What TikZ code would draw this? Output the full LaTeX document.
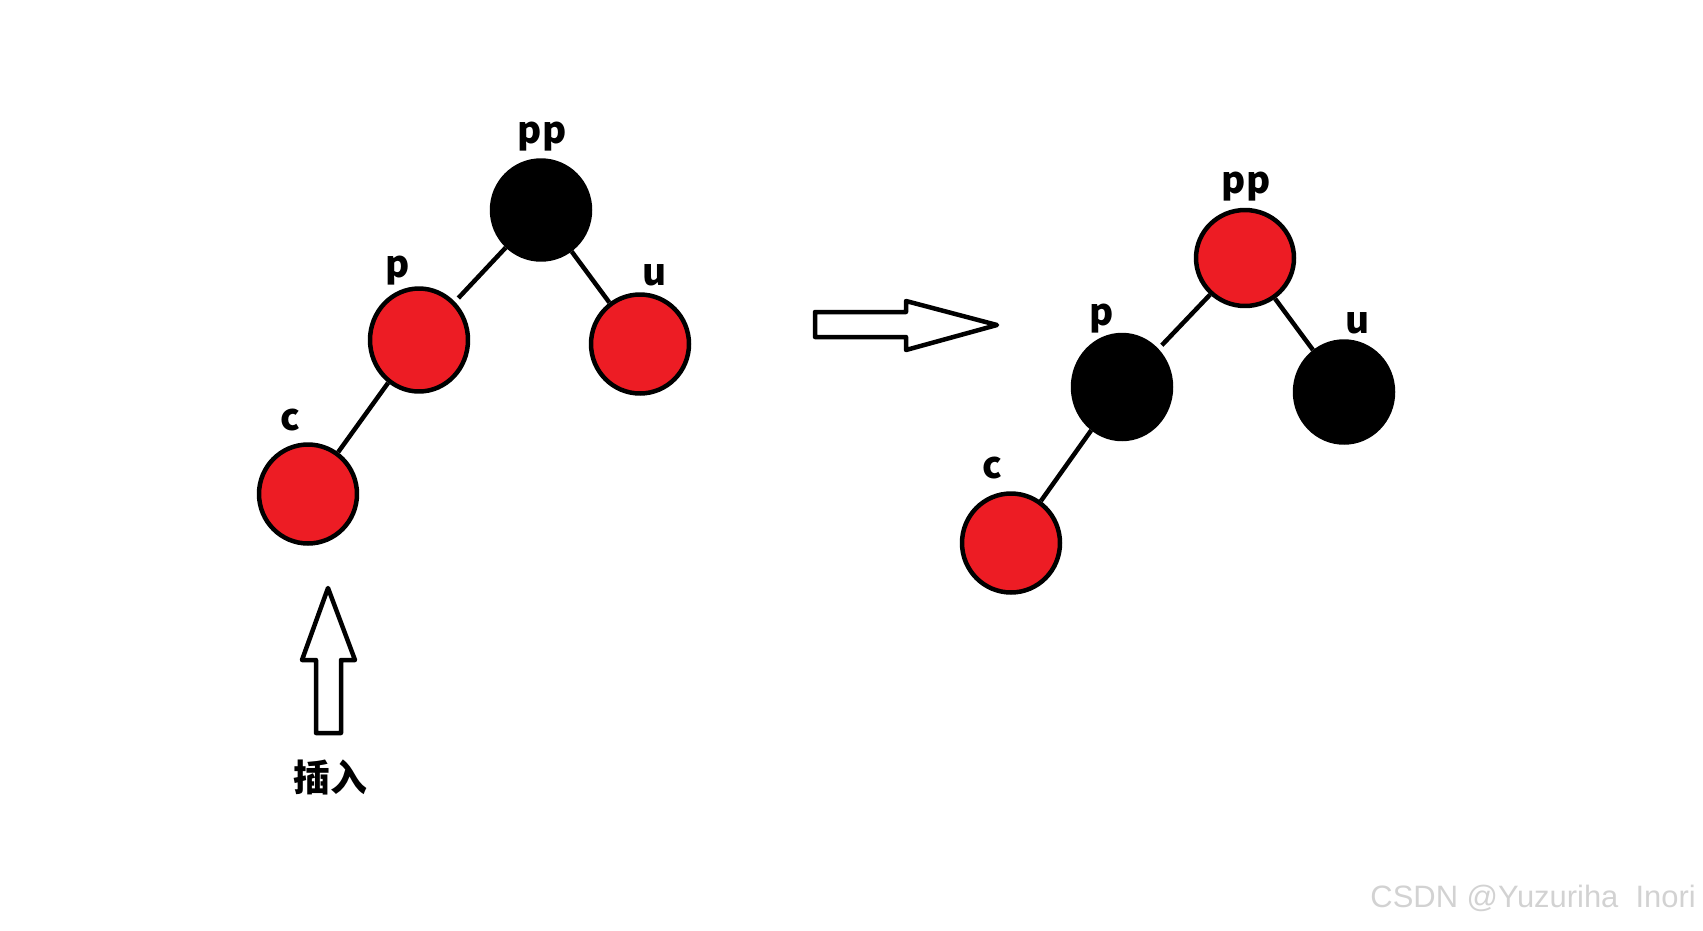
\documentclass[tikz,border=0pt]{standalone}
\usepackage{fontspec}
\setmainfont{Noto Sans CJK SC}
\setsansfont{Liberation Sans}
\usetikzlibrary{shapes.geometric}
\definecolor{paintred}{HTML}{ED1C24}
\definecolor{markgray}{HTML}{D2D2D2}

\begin{document}
\begin{tikzpicture}
    [x=0.02cm, y=-0.02cm, line width=0.09cm,
     tree node/.style={ellipse,draw,minimum width=1.96cm,minimum height=1.98cm},
     red fill/.style={fill=paintred},
     black fill/.style={fill=black},
     tag/.style={font=\fontsize{21}{25}\selectfont\bfseries, anchor=base, inner sep=0pt},
     hollow/.style={draw, line join=round}]
    \useasboundingbox (0,0) rectangle (1703,930);

    % before
    \node[tree node, black fill] (pp1) at (541,210) {};
    \node[tree node, red fill, minimum height=2.06cm] (p1) at (419,340) {};
    \node[tree node, red fill] (u1) at (640,344) {};
    \node[tree node, red fill] (c1) at (308,494) {};

    \node[tag] (pp1 tag) at (542,143) {pp};
    \node[tag] (p1 tag) at (398,277) {p};
    \node[tag] (u1 tag) at (655,285) {u};
    \node[tag] (c1 tag) at (290,430) {c};

    \draw[shorten >=0.1cm] (pp1) -- (p1);
    \draw (pp1) -- (u1);
    \draw (p1) -- (c1);

    % after
    \node[tree node, red fill, minimum height=1.92cm] (pp2) at (1245,258) {};
    \node[tree node, black fill, minimum height=2.08cm] (p2) at (1122,387) {};
    \node[tree node, black fill, minimum height=2.02cm] (u2) at (1344,392) {};
    \node[tree node, red fill] (c2) at (1011,543) {};

    \node[tag] (pp2 tag) at (1246,193) {pp};
    \node[tag] (p2 tag) at (1102,325) {p};
    \node[tag] (u2 tag) at (1358,333) {u};
    \node[tag] (c2 tag) at (992,478) {c};

    \draw[shorten >=0.1cm] (pp2) -- (p2);
    \draw (pp2) -- (u2);
    \draw (p2) -- (c2);

    % hollow arrows
    \draw[hollow] (815,312) -- (906,312) -- (906,301) -- (997,325)
        -- (906,350) -- (906,337) -- (815,337) -- cycle;
    \draw[hollow] (328,588) -- (355,660) -- (341,660) -- (341,733)
        -- (316,733) -- (316,660) -- (302,660) -- cycle;
    \node[tag] (insert) at (330,791) {插入};

    \node[font=\sffamily\fontsize{17.6}{20}\selectfont, text=markgray,
        anchor=base east, inner sep=0pt] (mark) at (1698,907) {CSDN @Yuzuriha\ \ Inori};
\end{tikzpicture}
\end{document}
